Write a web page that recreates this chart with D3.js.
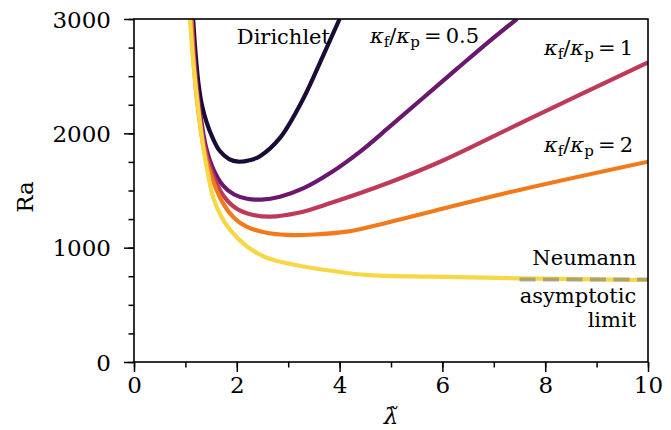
<!DOCTYPE html>
<html>
<head>
<meta charset="utf-8">
<script src="https://cdn.jsdelivr.net/npm/d3@7"></script>
<style>
  body { margin: 0; background: #fff; }
  svg text { font-family: "DejaVu Serif", "Liberation Serif", serif; }
</style>
</head>
<body>
<div id="chart"></div>
<script>
// values
var dirichletX  = [1.15, 1.19, 1.25, 1.32, 1.41, 1.53, 1.67, 1.85, 2.03, 2.25, 2.45, 2.84, 3.29, 3.68, 4.0];
var dirichletRa = [3000, 2744, 2452, 2250, 2100, 1960, 1845, 1775, 1752, 1765, 1800, 1960, 2300, 2680, 3000];

var halfX  = [1.13, 1.2, 1.28, 1.4, 1.54, 1.73, 1.95, 2.2, 2.48, 2.84, 3.3, 3.81, 4.4, 4.98, 5.6, 6.28, 6.9, 7.45];
var halfRa = [3000, 2520, 2200, 1880, 1690, 1545, 1465, 1428, 1420, 1445, 1520, 1650, 1840, 2060, 2300, 2563, 2800, 3000];

var oneX  = [1.12, 1.19, 1.27, 1.38, 1.5, 1.73, 2.0, 2.3, 2.65, 3.2, 3.81, 4.98, 6.0, 7.57, 10];
var oneRa = [3000, 2520, 2180, 1870, 1680, 1461, 1340, 1288, 1271, 1305, 1388, 1572, 1760, 2100, 2621];

var twoX  = [1.11, 1.18, 1.26, 1.37, 1.5, 1.73, 1.95, 2.19, 2.6, 2.97, 3.5, 4.14, 4.98, 6.0, 7.5, 10];
var twoRa = [3000, 2500, 2160, 1840, 1630, 1390, 1260, 1184, 1128, 1112, 1115, 1140, 1225, 1340, 1505, 1752];

var neumannX  = [1.09, 1.15, 1.22, 1.35, 1.45, 1.54, 1.7, 1.87, 2.2, 2.58, 3.0, 3.5, 4.5, 5.8, 7.5, 10];
var neumannRa = [3000, 2640, 2330, 1870, 1620, 1440, 1270, 1155, 1010, 912, 862, 820, 762, 746, 732, 717];

var asymX  = [7.5, 10];
var asymRa = [721, 721];

var xTicks = [0, 2, 4, 6, 8, 10];
var yTicks = [0, 1000, 2000, 3000];

var series = [
  { name: "Dirichlet", xs: dirichletX, ys: dirichletRa, color: "#1b0c36" },
  { name: "0.5", xs: halfX, ys: halfRa, color: "#6a176e" },
  { name: "1", xs: oneX, ys: oneRa, color: "#bf3a58" },
  { name: "2", xs: twoX, ys: twoRa, color: "#f37a1a" },
  { name: "Neumann", xs: neumannX, ys: neumannRa, color: "#f6d746" }
];

var width = 671, height = 430;
var margin = { left: 134, top: 19, right: 23, bottom: 68 };
var w = width - margin.left - margin.right;
var h = height - margin.top - margin.bottom;

var svg = d3.select("#chart").append("svg")
  .attr("width", width)
  .attr("height", height);

var g = svg.append("g")
  .attr("transform", "translate(" + margin.left + "," + margin.top + ")");

var x = d3.scaleLinear().domain([0, 10]).range([0, w]);
var y = d3.scaleLinear().domain([0, 3000]).range([h, 0]);

g.append("clipPath").attr("id", "clip")
  .append("rect").attr("width", w).attr("height", h);

var line = d3.line()
  .x(function (d) { return x(d[0]); })
  .y(function (d) { return y(d[1]); })
  .curve(d3.curveCatmullRom.alpha(0.5));

var plot = g.append("g").attr("clip-path", "url(#clip)");

series.forEach(function (s) {
  plot.append("path")
    .datum(d3.zip(s.xs, s.ys))
    .attr("d", line)
    .attr("fill", "none")
    .attr("stroke", s.color)
    .attr("stroke-width", 4.2)
    .attr("stroke-linejoin", "round");
});

plot.append("path")
  .datum(d3.zip(asymX, asymRa))
  .attr("d", line)
  .attr("fill", "none")
  .attr("stroke", "#808080")
  .attr("stroke-opacity", 0.6)
  .attr("stroke-width", 4)
  .attr("stroke-dasharray", "16,7.5");

// minor ticks
g.append("g")
  .call(d3.axisLeft(y).tickValues(d3.range(0, 3001, 250)).tickSize(5.5).tickFormat(""))
  .call(function (a) { a.select(".domain").remove(); });
g.append("g").attr("transform", "translate(0," + h + ")")
  .call(d3.axisBottom(x).tickValues(d3.range(0, 11, 1)).tickSize(5.5).tickFormat(""))
  .call(function (a) { a.select(".domain").remove(); });

var yAxis = g.append("g")
  .call(d3.axisLeft(y).tickValues(yTicks).tickSize(10).tickPadding(13).tickFormat(d3.format("d")));
yAxis.selectAll("text").attr("dy", "0.36em");

var xAxis = g.append("g").attr("transform", "translate(0," + h + ")")
  .call(d3.axisBottom(x).tickValues(xTicks).tickSize(10).tickPadding(5).tickFormat(d3.format("d")));

g.selectAll(".tick line").attr("stroke", "#000").attr("stroke-width", 1.5);
g.selectAll(".tick text").attr("font-size", 23).attr("fill", "#000");
g.selectAll(".domain").remove();

g.append("rect")
  .attr("width", w).attr("height", h)
  .attr("fill", "none").attr("stroke", "#000").attr("stroke-width", 1.6);

// axis labels
svg.append("text")
  .attr("transform", "translate(33,197) rotate(-90)")
  .attr("text-anchor", "middle")
  .attr("font-size", 23)
  .text("Ra");

svg.append("text")
  .attr("x", margin.left + w / 2)
  .attr("y", 424)
  .attr("text-anchor", "middle")
  .attr("font-size", 23)
  .attr("font-style", "italic")
  .text("\u03bb\u0303");

// annotations
function plain(txt, xv, yv, anchor) {
  g.append("text")
    .attr("x", x(xv)).attr("y", y(yv))
    .attr("text-anchor", anchor)
    .attr("font-size", 21)
    .text(txt);
}

function kappa(val, xv, yv, anchor) {
  var t = g.append("text")
    .attr("x", x(xv)).attr("y", y(yv))
    .attr("text-anchor", anchor)
    .attr("font-size", 21);
  t.append("tspan").attr("font-style", "italic").text("\u03ba");
  t.append("tspan").attr("font-size", 15).attr("dy", 4).text("f");
  t.append("tspan").attr("dy", -4).text("/");
  t.append("tspan").attr("font-style", "italic").text("\u03ba");
  t.append("tspan").attr("font-size", 15).attr("dy", 4).text("p");
  t.append("tspan").attr("dy", -4).text("\u2009=\u2009" + val);
}

plain("Dirichlet", 2.0, 2780, "start");
kappa("0.5", 4.59, 2790, "start");
kappa("1", 9.71, 2685, "end");
kappa("2", 9.71, 1837, "end");
plain("Neumann", 9.77, 848, "end");
plain("asymptotic", 9.77, 516, "end");
plain("limit", 9.77, 306, "end");
</script>
</body>
</html>
